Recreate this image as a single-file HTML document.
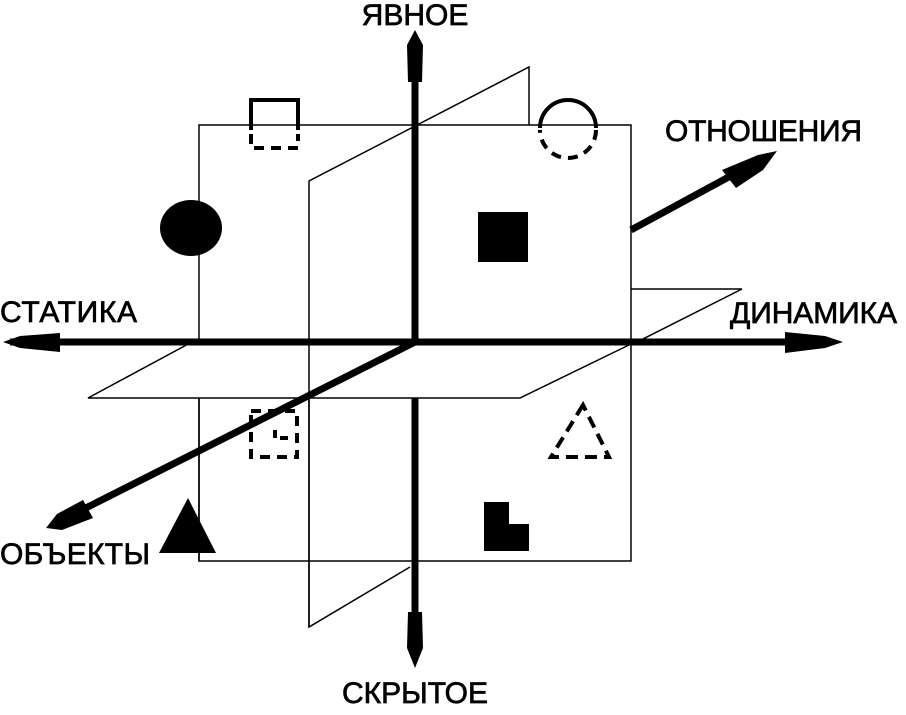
<!DOCTYPE html>
<html><head><meta charset="utf-8"><style>
body{margin:0;background:#fff;width:906px;height:710px;overflow:hidden}
svg text{font-family:"Liberation Sans",sans-serif;font-size:30px;fill:#000;stroke:#000;stroke-width:0.7}
</style></head><body>
<svg width="906" height="710" viewBox="0 0 906 710">
<rect x="199" y="125" width="432" height="436" fill="#fff" stroke="#000" stroke-width="1.5"/>
<!-- back part of horizontal plane -->
<polyline points="631,289 742,289 631,345" fill="none" stroke="#000" stroke-width="1.5"/>
<!-- vertical plane -->
<polyline points="529,125 529,67 309,181 309,627 410,567" fill="none" stroke="#000" stroke-width="1.5"/>
<!-- horizontal plane -->
<polygon points="88,398 192,342 631,342 520,398" fill="#fff" stroke="none"/>
<polyline points="192,342 88,398 520,398 631,344" fill="none" stroke="#000" stroke-width="1.5"/>
<line x1="309" y1="340" x2="309" y2="627" stroke="#000" stroke-width="1.5"/>
<line x1="199" y1="398" x2="199" y2="561" stroke="#000" stroke-width="1.5"/>
<!-- axes -->
<g stroke="#000" stroke-width="7" fill="none">
<line x1="415" y1="40" x2="415" y2="342"/>
<line x1="415" y1="398" x2="415" y2="640"/>
<line x1="10" y1="342" x2="415" y2="342"/>
<line x1="415" y1="342" x2="800" y2="342"/>
<line x1="415" y1="342" x2="60" y2="521"/>
<line x1="631" y1="230" x2="760" y2="160"/>
</g>
<!-- arrowheads -->
<g fill="#000">
<polygon points="408,82 422,82 423,45 415,30 407,45"/>
<polygon points="408,612 422,612 423,648 415,668 407,648"/>
<polygon points="60,333 60,352 20,348 3,342 20,336"/>
<polygon points="785,332 785,353 825,348 843,342 825,336"/>
<polygon points="83,500 93,518 62,530 46,528 57,514"/>
<polygon points="722,170 736,188 763,170 777,151 758,155"/>
</g>
<!-- shapes -->
<g fill="#000">
<rect x="478" y="212" width="50" height="50"/>
<ellipse cx="191" cy="228" rx="31" ry="28"/>
<polygon points="188,498 159,553 216,553"/>
<polygon points="484,502 509,502 509,524 529,524 529,551 484,551"/>
</g>
<g fill="none" stroke="#000" stroke-width="4">
<polyline points="251,130 251,100 298,100 298,130"/>
<polyline points="251,134 251,148 298,148 298,134" stroke-dasharray="10,7"/>
<path d="M540,128 A28,28 0 0 1 596,128"/>
<path d="M596,130 A28,28 0 0 1 540,130" stroke-dasharray="10,7"/>
<rect x="251" y="411" width="46" height="46" stroke-dasharray="10,7"/>
<polyline points="275,430 275,438 290,438" stroke-dasharray="8,5"/>
<polygon points="583,405 551,457 609,457" stroke-dasharray="12,7"/>
</g>
<text x="415" y="25" text-anchor="middle">ЯВНОЕ</text>
<text x="415" y="703" text-anchor="middle">СКРЫТОЕ</text>
<text x="0" y="322" textLength="137">СТАТИКА</text>
<text x="730" y="323" textLength="167">ДИНАМИКА</text>
<text x="665" y="141" textLength="197">ОТНОШЕНИЯ</text>
<text x="0" y="564" textLength="150">ОБЪЕКТЫ</text>
</svg>
</body></html>
